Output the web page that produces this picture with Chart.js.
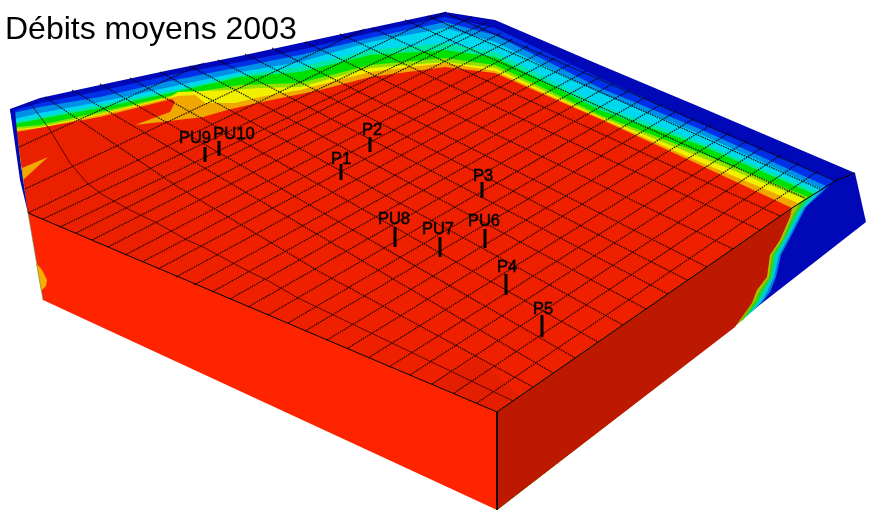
<!DOCTYPE html>
<html>
<head>
<meta charset="utf-8">
<title>Débits moyens 2003</title>
<script src="https://cdn.jsdelivr.net/npm/chart.js@4"></script>
<style>
  html, body {margin: 0; padding: 0; background: #fff;}
  canvas {display: block;}
</style>
</head>
<body>
<canvas id="chart" width="869" height="510"></canvas>
<script>
const titleText = "Débits moyens 2003";

// outline of the block (x, y)
const frontFace = [[28,213],[497,412],[497,510],[43,300]];
const sideFace = [[497,412],[792,208],[835,181],[855,173],[866,222],[497,510]];
const leftRim = [[10,109],[15,110],[17,132],[21,167],[28,213],[20,180]];
const frontEdge = [[28,213],[497,412],[792,208],[835,181],[855,173]];
const cornerEdge = [[497,412],[497,510]];
const lowerRim = [[28,213],[43,300]];

// contour bands on the top face, back edge first
const band0 = [[10,109],[40,98],[100,85],[170,70],[240,56],[300,43],[370,28],[445,12],[495,20],[600,65],[700,107],[855,173],[835,181]];
const band1 = [[12,111],[40,103],[100,91],[170,75],[240,62],[300,50],[370,33],[445,17],[495,28],[600,78],[700,123],[835,181]];
const band2 = [[13,113],[40,107],[100,97],[170,81],[240,67],[300,55],[370,38],[445,22],[495,35],[600,88],[700,129],[826,186]];
const band3 = [[14,119],[40,113],[100,102],[170,87],[240,72],[300,62],[370,42],[445,28],[495,42],[600,93],[700,134],[822,189]];
const band4 = [[15,122],[40,117],[100,105],[170,91],[240,75],[300,67],[370,50],[445,43],[495,52],[600,105],[700,142],[817,192]];
const band5 = [[15,124],[40,119],[100,108],[170,93],[240,77],[300,72],[370,55],[445,50],[495,57],[600,110],[700,145],[814,194]];
const band6 = [[16,127],[40,125],[100,112],[170,96],[240,85],[300,83],[370,65],[445,58],[495,65],[600,115],[700,153],[808,197]];
const band7 = [[16,129],[40,127],[100,114],[170,97],[178,92],[230,90],[260,88],[300,87],[370,68],[445,62],[495,68],[600,117],[700,157],[804,199]];
const band8 = [[16,130],[40,128],[100,115],[170,98],[178,96],[195,95],[205,103],[235,103],[260,97],[300,90],[370,72],[445,63],[495,71],[600,118],[700,162],[798,203]];
const band9 = [[17,132],[40,130],[100,117],[172,99],[175,102],[170,112],[135,125],[203,117],[227,110],[257,103],[320,90],[370,77],[445,67],[495,73],[600,119],[700,165],[792,208]];
const faceClose = [[497,412],[28,213]];
const bandColors = ["#0008b8","#0030e8","#0090e8","#00d8f0","#00e8a0","#00e000","#90e000","#f0f000","#f0a800","#ee2000"];

// small patches on the faces
const leftWedge = [[22,168],[48,157],[23,180]];
const yellowBlob = [[36,263],[42,270],[47,280],[46,286],[41,291],[39,280]];
const darkerLeft = [[17,132],[100,117],[135,125],[200,150],[150,262],[28,213]];
const darkerCorner = [[432,384],[478,358],[520,396],[497,412]];

// contours on the side face, blue side towards the red side
const sideClose = [[497,510],[497,412],[792,208]];
const side1 = [[830,185],[806,207],[790,238],[781,255],[776,277],[770,292],[764,300],[757,307]];
const side2 = [[822,190],[803,209],[788,238],[779,255],[774,277],[767,292],[762,301],[753,311]];
const side3 = [[815,194],[800,211],[786,239],[777,255],[772,277],[765,291],[759,301],[748,315]];
const side4 = [[807,199],[796,213],[784,239],[774,255],[771,277],[762,291],[757,302],[744,319]];
const side5 = [[800,203],[793,215],[782,240],[772,255],[769,277],[760,290],[754,302],[739,323]];
const side6 = [[792,208],[790,217],[780,240],[770,255],[767,277],[757,290],[752,303],[735,327]];
const sideColors = ["#0080e0","#00c8e0","#00d890","#40d000","#b0c000","#bd1800"];

// grid lines rising to the right
const gridRising = [
  [[19,147],[204,63]],[[25,189],[365,29]],[[28,213],[446,12]],[[43,219],[472,17]],[[60,227],[487,22]],
  [[76,233],[490,26]],[[92,240],[501,33]],[[108,247],[513,39]],[[125,255],[528,46]],[[142,262],[542,52]],
  [[158,269],[555,58]],[[176,277],[570,64]],[[194,285],[586,71]],[[212,292],[600,77]],[[230,299],[614,83]],
  [[248,307],[630,90]],[[268,315],[646,97]],[[288,323],[662,104]],[[305,331],[677,111]],[[327,340],[695,118]],
  [[348,348],[711,125]],[[368,358],[729,133]],[[389,367],[747,141]],[[410,375],[763,147]],[[432,384],[781,155]],
  [[454,393],[799,163]],[[477,403],[818,171]]
];
// grid lines falling to the right
const gridFalling = [
  [[45,97],[178,187],[320,272],[533,387]],
  [[72,90],[553,373]],[[100,84],[575,358]],[[130,78],[598,342]],[[160,72],[623,325]],[[190,66],[646,309]],
  [[218,60],[668,294]],[[245,54],[687,280]],[[272,48],[707,267]],[[305,42],[733,249]],[[340,34],[760,230]],
  [[372,28],[780,216]],[[405,20],[805,198]],[[428,16],[820,189]],[[448,14],[835,181]]
];
const coarseLine = [[30,103],[50,130],[70,163],[87,183],[103,195],[130,210],[157,223],[187,240],[203,247],[233,263],[250,272],[267,280],[298,298],[513,401]];

// wells
const wellNames = ["P1","P2","P3","P4","P5","PU6","PU7","PU8","PU9","PU10"];
const wellX = [341,370,482,506,542,485,440,395,205,219];
const wellTop = [164,137,182,274,315,229,237,227,147,141];
const wellBottom = [180,152,198,295,337,248,257,247,162,156];
const labelX = [341,372,483,507,543,484,438,394,195,234];
const labelY = [159,130,176,267,309,221,229,219,138,134];

const toPoints = list => list.map(([x, y]) => ({x, y}));
const datasets = [];

function addArea(points, color) {
  datasets.push({data: toPoints(points), areaColor: color, showLine: false, pointRadius: 0});
}
function addLine(points, color, width, dash) {
  datasets.push({data: toPoints(points), showLine: true, borderColor: color, borderWidth: width, borderDash: dash || [], pointRadius: 0, fill: false});
}

[band0, band1, band2, band3, band4, band5, band6, band7, band8, band9].forEach((band, i) => {
  addArea(band.concat(i === 9 ? [] : [[792,208]]).concat(faceClose), bandColors[i]);
});
addArea(darkerLeft, "#eb2000");
addArea(darkerCorner, "#e41e00");
addArea(leftWedge, "#f0a800");
addArea(leftRim, "#0008b8");
addArea(frontFace, "#ff2400");
addArea(yellowBlob, "#f8b000");
addArea(sideFace, "#0008b8");
[side1, side2, side3, side4, side5, side6].forEach((side, i) => addArea(side.concat(sideClose), sideColors[i]));

gridRising.forEach(line => addLine(line, "rgba(10,0,0,0.9)", 1.2, [1.5, 1]));
gridFalling.forEach(line => addLine(line, "rgba(10,0,0,0.9)", 1.2, [1.5, 1]));
addLine(coarseLine, "rgba(40,0,0,0.75)", 1);
addLine(frontEdge, "#000", 1);
addLine(cornerEdge, "#000", 1);
addLine(lowerRim, "rgba(90,154,112,0.6)", 1);
wellNames.forEach((name, i) => addLine([[wellX[i], wellTop[i]], [wellX[i], wellBottom[i]]], "#000", 3));

// later datasets go on top
datasets.forEach((d, i) => { d.order = datasets.length - i; });

const areaFill = {
  id: "areaFill",
  beforeDatasetDraw(chart, args) {
    const color = chart.data.datasets[args.index].areaColor;
    if (!color) return;
    const pts = args.meta.data;
    const ctx = chart.ctx;
    ctx.save();
    ctx.beginPath();
    pts.forEach((p, i) => i ? ctx.lineTo(p.x, p.y) : ctx.moveTo(p.x, p.y));
    ctx.closePath();
    ctx.fillStyle = color;
    ctx.fill();
    ctx.restore();
  }
};

const textLabels = {
  id: "textLabels",
  afterDraw(chart) {
    const {ctx, scales: {x, y}} = chart;
    ctx.save();
    ctx.fillStyle = "#000";
    ctx.textBaseline = "middle";
    ctx.textAlign = "center";
    ctx.font = "16.5px 'Liberation Sans'";
    ctx.strokeStyle = "rgba(0,0,0,0.6)";
    ctx.lineWidth = 0.8;
    wellNames.forEach((name, i) => {
      ctx.fillText(name, x.getPixelForValue(labelX[i]), y.getPixelForValue(labelY[i]));
      ctx.strokeText(name, x.getPixelForValue(labelX[i]), y.getPixelForValue(labelY[i]));
    });
    ctx.textAlign = "left";
    ctx.textBaseline = "alphabetic";
    ctx.font = "32px 'Liberation Sans'";
    ctx.fillText(titleText, x.getPixelForValue(5), y.getPixelForValue(39));
    ctx.restore();
  }
};

new Chart(document.getElementById("chart"), {
  type: "scatter",
  data: {datasets},
  plugins: [areaFill, textLabels],
  options: {
    responsive: false,
    animation: false,
    devicePixelRatio: 1,
    layout: {padding: 0},
    plugins: {legend: {display: false}, tooltip: {enabled: false}},
    scales: {
      x: {type: "linear", min: 0, max: 869, display: false},
      y: {type: "linear", min: 0, max: 510, reverse: true, display: false}
    }
  }
});
</script>
</body>
</html>
